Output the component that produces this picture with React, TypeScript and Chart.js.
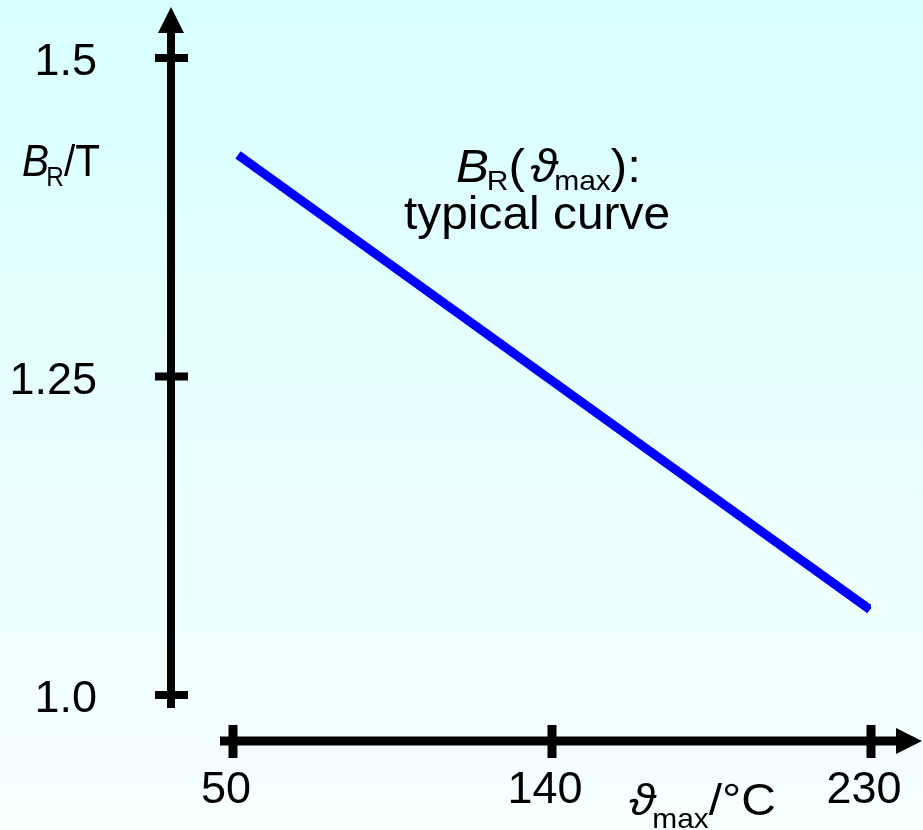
import React, { useEffect, useRef } from "react";
import { Chart, registerables } from "chart.js";

Chart.register(...registerables);

// ---- data ----
const curveX = [51.4, 229.7];
const curveY = [1.424, 1.067];
const xTicks = [50, 140, 230];
const xTickLabels = ["50", "140", "230"];
const yTicks = [1.5, 1.25, 1.0];
const yTickLabels = ["1.5", "1.25", "1.0"];

const FONT = '"Liberation Sans", Arial, "DejaVu Sans", sans-serif';

type Seg = { t: string; f: string; dy?: number; dx?: number };

function drawRich(ctx: CanvasRenderingContext2D, segs: Seg[], left: number, y: number, target?: number) {
  let total = 0;
  for (const s of segs) {
    ctx.font = s.f;
    total += ctx.measureText(s.t).width + (s.dx || 0);
  }
  const sc = target ? target / total : 1;
  ctx.save();
  ctx.translate(left, y);
  ctx.scale(sc, 1);
  ctx.textAlign = "left";
  ctx.textBaseline = "alphabetic";
  let cx = 0;
  for (const s of segs) {
    ctx.font = s.f;
    cx += s.dx || 0;
    ctx.fillText(s.t, cx, s.dy || 0);
    cx += ctx.measureText(s.t).width;
  }
  ctx.restore();
}

const bgPlugin = {
  id: "bg",
  beforeDraw(chart: any) {
    const { ctx, width, height } = chart;
    const g = ctx.createLinearGradient(0, 0, 0, height);
    g.addColorStop(0, "#d8ffff");
    g.addColorStop(1, "#f8ffff");
    ctx.save();
    ctx.fillStyle = g;
    ctx.fillRect(0, 0, width, height);
    ctx.restore();
  },
};

const axesPlugin = {
  id: "axes",
  afterDatasetsDraw(chart: any) {
    const { ctx } = chart;
    const xs = chart.scales.x;
    const ys = chart.scales.y;
    ctx.save();
    ctx.fillStyle = "#000";

    // y axis
    const ax = 171;
    ctx.fillRect(ax - 4, 32, 8, 708 - 32);
    ctx.beginPath();
    ctx.moveTo(ax, 7);
    ctx.lineTo(ax + 13, 33);
    ctx.lineTo(ax - 13, 33);
    ctx.closePath();
    ctx.fill();
    ctx.font = "45px " + FONT;
    ctx.textAlign = "right";
    ctx.textBaseline = "alphabetic";
    yTicks.forEach((v, i) => {
      const py = ys.getPixelForValue(v);
      ctx.fillRect(155, py - 4, 33, 8);
      ctx.fillText(yTickLabels[i], 97, py + 17);
    });

    // x axis
    const ay = 741;
    ctx.fillRect(220, ay - 4.5, 897 - 220, 9);
    ctx.beginPath();
    ctx.moveTo(922, ay);
    ctx.lineTo(896, ay - 13);
    ctx.lineTo(896, ay + 13);
    ctx.closePath();
    ctx.fill();
    ctx.font = "45px " + FONT;
    ctx.textAlign = "center";
    xTicks.forEach((v, i) => {
      const px = xs.getPixelForValue(v);
      ctx.fillRect(px - 4.5, 725, 9, 33);
      ctx.fillText(xTickLabels[i], px - 7, 803);
    });

    // axis titles
    drawRich(ctx, [
      { t: "B", f: "italic 45px " + FONT },
      { t: "R", f: "27px " + FONT, dy: 10, dx: -3 },
      { t: "/T", f: "45px " + FONT },
    ], 22, 176, 78);

    drawRich(ctx, [
      { t: "\u03D1", f: "italic 45px " + FONT },
      { t: "max", f: "28px " + FONT, dy: 13, dx: -3 },
      { t: "/\u00B0C", f: "45px " + FONT },
    ], 629, 815, 147);

    // annotation
    drawRich(ctx, [
      { t: "B", f: "italic 46px " + FONT },
      { t: "R", f: "28px " + FONT, dy: 8, dx: -2 },
      { t: "(", f: "46px " + FONT },
      { t: "\u03D1", f: "italic 46px " + FONT, dx: 5 },
      { t: "max", f: "28px " + FONT, dy: 8, dx: -3 },
      { t: "):", f: "46px " + FONT },
    ], 456, 182, 185);
    drawRich(ctx, [{ t: "typical curve", f: "46px " + FONT }], 404, 229, 266);

    ctx.restore();
  },
};

export default function App() {
  const ref = useRef<HTMLCanvasElement | null>(null);
  useEffect(() => {
    if (!ref.current) return;
    const chart = new Chart(ref.current, {
      type: "scatter",
      data: {
        datasets: [
          {
            data: curveX.map((x, i) => ({ x, y: curveY[i] })),
            showLine: true,
            borderColor: "#0000ff",
            borderWidth: 9,
            borderCapStyle: "butt",
            pointRadius: 0,
            fill: false,
          } as any,
        ],
      },
      options: {
        responsive: false,
        animation: false,
        layout: { padding: { left: 233, right: 52, top: 58, bottom: 135 } },
        plugins: { legend: { display: false }, tooltip: { enabled: false } },
        scales: {
          x: { type: "linear", min: 50, max: 230, display: false },
          y: { type: "linear", min: 1.0, max: 1.5, display: false },
        },
      },
      plugins: [bgPlugin, axesPlugin],
    });
    return () => chart.destroy();
  }, []);
  return (
    <div style={{ position: "absolute", left: 0, top: 0, width: 923, height: 830 }}>
      <canvas ref={ref} width={923} height={830} style={{ display: "block", width: 923, height: 830 }} />
    </div>
  );
}
